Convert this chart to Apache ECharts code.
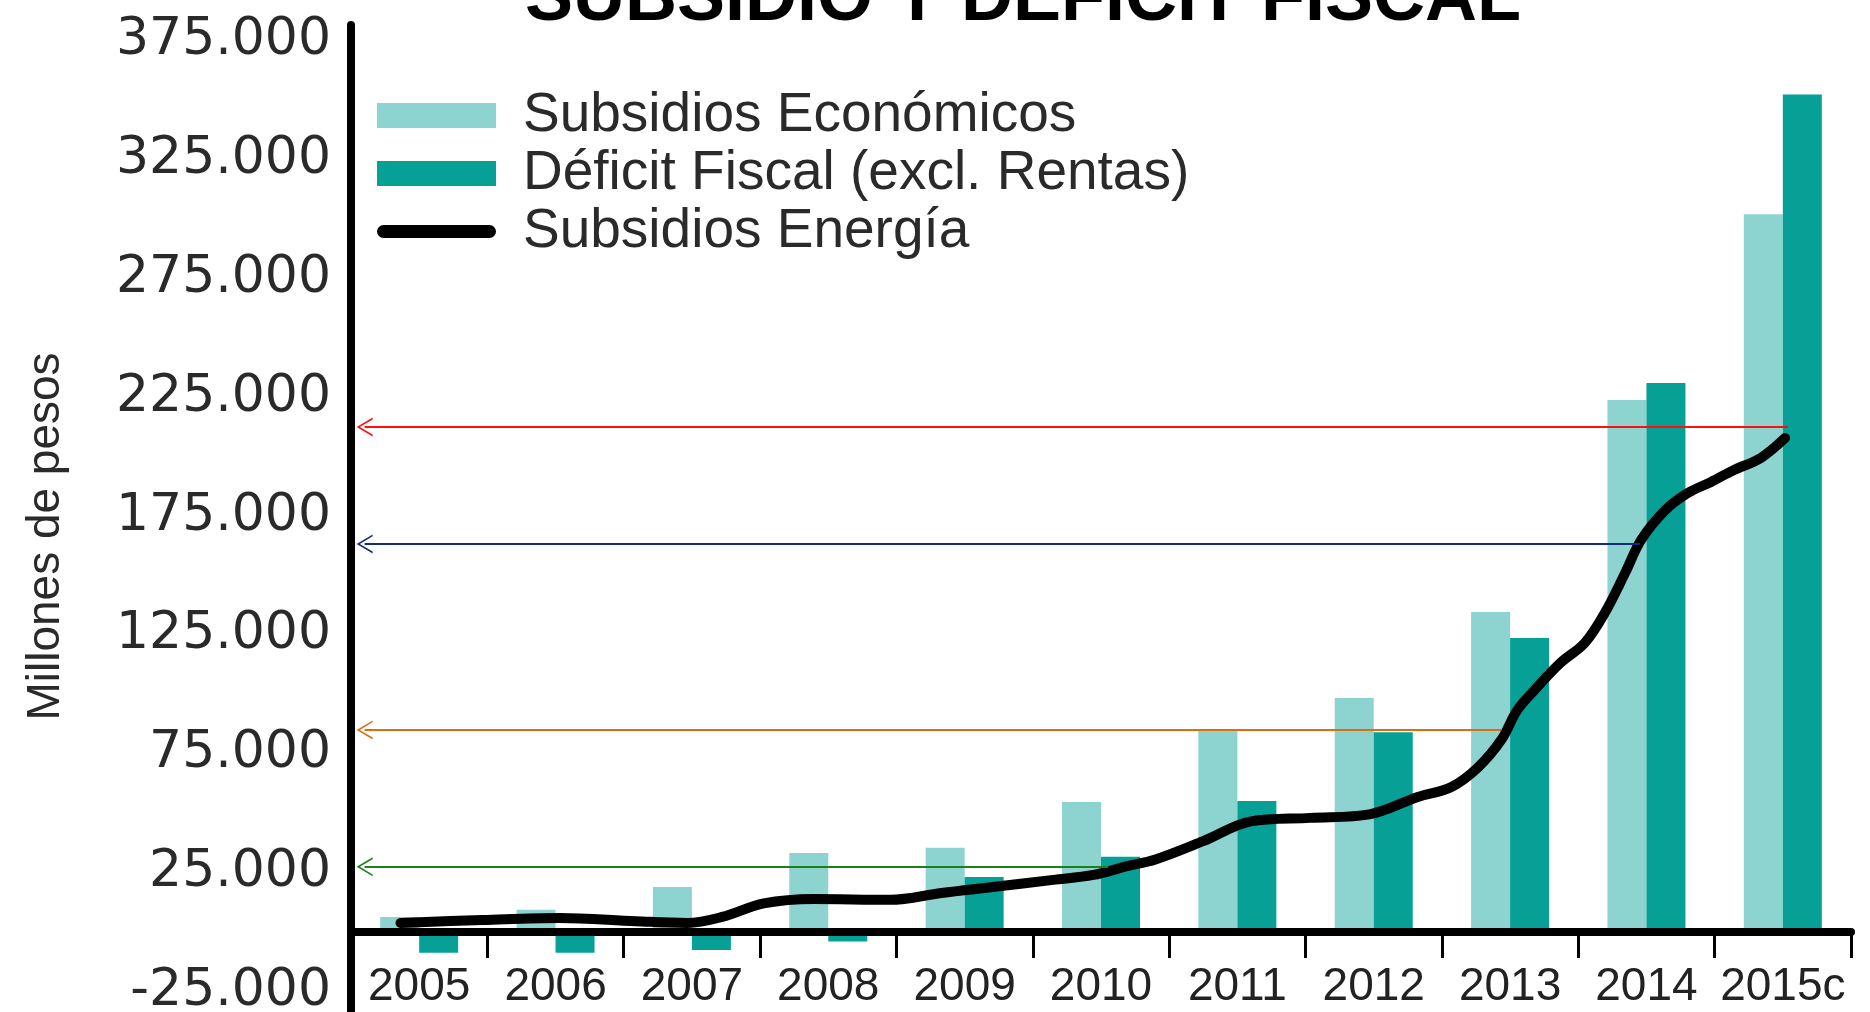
<!DOCTYPE html>
<html><head><meta charset="utf-8">
<script src="https://cdn.jsdelivr.net/npm/echarts@6/dist/echarts.min.js"></script>
<style>html,body{margin:0;padding:0;background:#fff}#c{width:1870px;height:1012px}</style>
</head><body><div id="c"></div>
<script>
const categories = ['2005','2006','2007','2008','2009','2010','2011','2012','2013','2014','2015c'];
const subsidiosEconomicos = [6300, 9300, 18900, 33200, 35400, 54700, 84600, 98500, 134700, 223900, 302000];
const deficitFiscal = [-8800, -8800, -7600, -4000, 23100, 31600, 55100, 84000, 123700, 231000, 352500];
// Subsidios Energía: hand-drawn curve, positions read in year units (year centre = category)
const energiaYears = [2004.863, 2005.464, 2006.027, 2006.590, 2006.965, 2007.221, 2007.527, 2007.892, 2008.455, 2008.830,
  2009.205, 2009.649, 2009.945, 2010.172, 2010.399, 2010.754, 2011.099, 2011.534, 2011.968, 2012.323, 2012.570, 2012.767,
  2012.935, 2013.053, 2013.181, 2013.369, 2013.547, 2013.695, 2013.843, 2013.961, 2014.139, 2014.306, 2014.474, 2014.642,
  2014.839, 2015.017];
const energiaValues = [3800, 5000, 5900, 4500, 3800, 6300, 12000, 13900, 13500, 16400,
  18900, 21900, 24000, 27400, 30500, 38300, 46500, 48000, 49500, 56800, 61000, 69400,
  80800, 93400, 101900, 113200, 121600, 134300, 151000, 165000, 177600, 184800, 189400, 194400,
  199500, 207900];
const yTickValues = [-25000, 25000, 75000, 125000, 175000, 225000, 275000, 325000, 375000];
// annotation arrows (value marked, year where the arrow starts)
const arrowValues = [212500, 163300, 85000, 27400];
const arrowEndYears = [2015.037, 2013.951, 2012.935, 2010.053];
const arrowStartYear = 2004.6;
const arrowColors = ['#ff1010', '#1a2a80', '#d9700f', '#1d7f1d'];

const chevron = 'path://M0,10 L5,0 L10,10 L9,10 L5,2 L1,10 Z';
const lineIcon = 'path://M6.5,0 L112.5,0 A6.5,6.5 0 0 1 112.5,13 L6.5,13 A6.5,6.5 0 0 1 6.5,0 Z';
const fmt = v => String(v).replace(/\B(?=(\d{3})+(?!\d))/g, '.');

const chart = echarts.init(document.getElementById('c'), null, {renderer: 'canvas'});
chart.setOption({
  animation: false,
  backgroundColor: '#fff',
  title: {
    text: 'SUBSIDIO Y DÉFICIT FISCAL', left: 525, top: -36, padding: 0,
    textStyle: {fontSize: 72, lineHeight: 72, fontWeight: 'bold', fontFamily: 'Liberation Sans', color: '#000'}
  },
  legend: {
    orient: 'vertical', left: 377, top: 88, padding: 0,
    itemWidth: 119, itemHeight: 25, itemGap: 3,
    textStyle: {fontSize: 55, lineHeight: 55, fontFamily: 'Liberation Sans', color: '#2a2a2a', padding: [0, 0, 0, 22]},
    data: [
      {name: 'Subsidios Económicos', icon: 'rect'},
      {name: 'Déficit Fiscal (excl. Rentas)', icon: 'rect'},
      {name: 'Subsidios Energía', icon: lineIcon, itemStyle: {color: '#000'}}
    ]
  },
  grid: {left: 351, right: 19, top: 25, bottom: 0, containLabel: false, outerBoundsMode: 'none'},
  xAxis: [{
    type: 'category', data: categories, z: 5,
    axisLine: {onZero: true, lineStyle: {color: '#000', width: 8}},
    axisTick: {show: true, length: 26, lineStyle: {color: '#000', width: 3}},
    axisLabel: {interval: 0, margin: -48, fontSize: 46, lineHeight: 46, fontFamily: 'Liberation Sans', color: '#222'},
    splitLine: {show: false}
  }, {
    type: 'value', min: 2004.5, max: 2015.5, show: false
  }],
  yAxis: {
    type: 'value', min: -33700, max: 381700,
    axisLine: {show: true, onZero: false, lineStyle: {color: '#000', width: 8}},
    axisTick: {show: false},
    splitLine: {show: false},
    axisLabel: {customValues: yTickValues, formatter: fmt, fontSize: 52, fontFamily: 'DejaVu Sans', color: '#2a2a2a', margin: 20},
    name: 'Millones de pesos', nameLocation: 'middle', nameGap: 282, nameRotate: 90,
    nameTextStyle: {fontSize: 46, fontFamily: 'Liberation Sans', color: '#2a2a2a', padding: [0, 36, 0, 0]}
  },
  series: [{
    name: 'Subsidios Económicos', type: 'bar', data: subsidiosEconomicos,
    barWidth: 39, barGap: '0%', itemStyle: {color: '#8dd4d0'}, z: 2
  }, {
    name: 'Déficit Fiscal (excl. Rentas)', type: 'bar', data: deficitFiscal,
    barWidth: 39, barGap: '0%', itemStyle: {color: '#06a097'}, z: 2
  }, {
    name: 'Subsidios Energía', type: 'line', xAxisIndex: 1,
    data: energiaYears.map((y, i) => [y, energiaValues[i]]),
    symbol: 'none', smooth: 0.35, z: 3,
    lineStyle: {color: '#000', width: 10, cap: 'round', join: 'round'},
    itemStyle: {color: '#000'},
    markLine: {
      silent: true, z: 4,
      symbol: [chevron, 'none'], symbolSize: [19, 16],
      label: {show: false},
      emphasis: {disabled: true},
      data: arrowValues.map((v, i) => [
        {coord: [arrowStartYear, v], lineStyle: {color: arrowColors[i], width: 2, type: 'solid'}, itemStyle: {color: arrowColors[i]}},
        {coord: [arrowEndYears[i], v]}
      ])
    }
  }]
});
</script></body></html>
